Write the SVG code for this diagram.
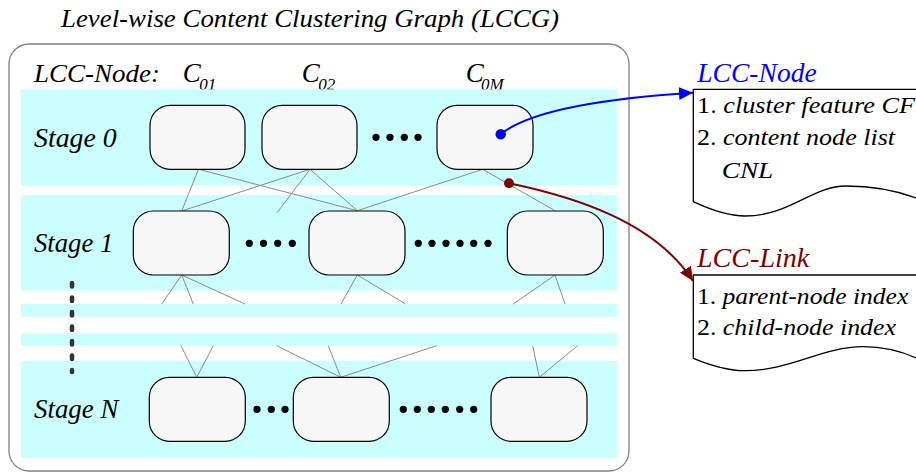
<svg xmlns="http://www.w3.org/2000/svg" width="916" height="473" viewBox="0 0 916 473" font-family="'Liberation Serif', 'DejaVu Serif', serif">
  <style>
    text { font-family: "Liberation Serif", "DejaVu Serif", serif; fill: #000; }
    .it { font-style: italic; }
    .band { fill: #ccffff; }
    .node { fill: #f7f7f7; stroke: #000; stroke-width: 1.2; }
    .link { stroke: #8c8c8c; stroke-width: 1; fill: none; }
    .dot { fill: #000; }
    .doc { fill: #fff; stroke: #000; stroke-width: 1.3; }
  </style>
  <defs>
    <marker id="arrowBlue" markerUnits="userSpaceOnUse" markerWidth="16" markerHeight="14" refX="14" refY="6.5" orient="auto">
      <path d="M0,0 L14,6.5 L0,13 z" fill="#0000ff"/>
    </marker>
    <marker id="arrowRed" markerUnits="userSpaceOnUse" markerWidth="16" markerHeight="14" refX="14" refY="6.5" orient="auto">
      <path d="M0,0 L14,6.5 L0,13 z" fill="#800000"/>
    </marker>
  </defs>

  <rect width="916" height="473" fill="#fff"/>

  <!-- title -->
  <text class="it" x="61" y="27" font-size="25" textLength="498" lengthAdjust="spacingAndGlyphs">Level-wise Content Clustering Graph (LCCG)</text>

  <!-- outer frame -->
  <rect x="9" y="44" width="620" height="427" rx="20" ry="20" fill="#fff" stroke="#808080" stroke-width="1.3"/>

  <!-- column headers (sit under the stage bands) -->
  <g id="headers">
    <text class="it" x="34" y="81.7" font-size="26" textLength="126" lengthAdjust="spacingAndGlyphs">LCC-Node:</text>
    <text class="it" x="182.7" y="81.7" font-size="27">C</text>
    <text class="it" x="199.3" y="90" font-size="17">01</text>
    <text class="it" x="301.7" y="81.7" font-size="27">C</text>
    <text class="it" x="318.3" y="90" font-size="17">02</text>
    <text class="it" x="465.7" y="81.7" font-size="27">C</text>
    <text class="it" x="481" y="90" font-size="17">0M</text>
  </g>

  <!-- stage bands -->
  <g id="bands">
    <rect class="band" x="21" y="89.3" width="596" height="96.4"/>
    <rect class="band" x="21" y="195" width="596" height="95.7"/>
    <rect class="band" x="21" y="304" width="596" height="12.7"/>
    <rect class="band" x="21" y="333.3" width="596" height="12.4"/>
    <rect class="band" x="21" y="361" width="596" height="96.7"/>
  </g>

  <!-- connectors -->
  <g id="connectors" class="link">
    <line x1="198.5" y1="169.3" x2="181.7" y2="211"/>
    <line x1="198.5" y1="169.3" x2="357.3" y2="210.7"/>
    <line x1="310" y1="169.3" x2="181.7" y2="211"/>
    <line x1="310" y1="169.3" x2="277" y2="212.7"/>
    <line x1="310" y1="169.3" x2="357.3" y2="210.7"/>
    <line x1="482.7" y1="169.3" x2="357.3" y2="210.7"/>
    <line x1="482.7" y1="169.3" x2="555" y2="210.7"/>

    <line x1="181.7" y1="275" x2="161.7" y2="304"/>
    <line x1="181.7" y1="275" x2="193.3" y2="304"/>
    <line x1="181.7" y1="275" x2="245" y2="304"/>
    <line x1="357.3" y1="275" x2="341" y2="304"/>
    <line x1="357.3" y1="275" x2="405.7" y2="304"/>
    <line x1="555" y1="275" x2="513.3" y2="304"/>
    <line x1="555" y1="275" x2="565" y2="304"/>

    <line x1="181" y1="345.7" x2="196.7" y2="377.3"/>
    <line x1="213.3" y1="345.7" x2="196.7" y2="377.3"/>
    <line x1="276.7" y1="345.7" x2="340.7" y2="377.3"/>
    <line x1="328.3" y1="345.7" x2="340.7" y2="377.3"/>
    <line x1="436.7" y1="345.7" x2="340.7" y2="377.3"/>
    <line x1="532.7" y1="345.7" x2="539.3" y2="377.3"/>
    <line x1="577.7" y1="345.7" x2="539.3" y2="377.3"/>
  </g>

  <!-- stage 0 -->
  <g id="stage0">
    <text class="it" x="34" y="147" font-size="27" textLength="82.7" lengthAdjust="spacingAndGlyphs">Stage 0</text>
    <g id="c01"><rect class="node" x="150" y="105.3" width="95" height="64" rx="20"/></g>
    <g id="c02"><rect class="node" x="262" y="105.3" width="95" height="64" rx="20"/></g>
    <g id="c0m"><rect class="node" x="437" y="105.3" width="96" height="64" rx="20"/></g>
    <g class="dot">
      <circle cx="376" cy="137.3" r="3.6"/>
      <circle cx="390" cy="137.3" r="3.6"/>
      <circle cx="404.3" cy="137.3" r="3.6"/>
      <circle cx="418" cy="137.3" r="3.6"/>
    </g>
  </g>

  <!-- stage 1 -->
  <g id="stage1">
    <text class="it" x="34" y="251.7" font-size="27" textLength="79.3" lengthAdjust="spacingAndGlyphs">Stage 1</text>
    <g id="c11"><rect class="node" x="133.3" y="211" width="96" height="64" rx="20"/></g>
    <g id="c12"><rect class="node" x="309" y="211" width="96" height="64" rx="20"/></g>
    <g id="c1m"><rect class="node" x="507.3" y="211" width="96" height="64" rx="20"/></g>
    <g class="dot">
      <circle cx="249.3" cy="243.3" r="3.6"/>
      <circle cx="263.5" cy="243.3" r="3.6"/>
      <circle cx="277.7" cy="243.3" r="3.6"/>
      <circle cx="292.3" cy="243.3" r="3.6"/>
      <circle cx="418.3" cy="243.3" r="3.6"/>
      <circle cx="432" cy="243.3" r="3.6"/>
      <circle cx="446" cy="243.3" r="3.6"/>
      <circle cx="460" cy="243.3" r="3.6"/>
      <circle cx="473.7" cy="243.3" r="3.6"/>
      <circle cx="488" cy="243.3" r="3.6"/>
    </g>
  </g>

  <!-- vertical ellipsis between stages -->
  <line x1="72" y1="283" x2="72" y2="372" stroke="#333" stroke-width="4.5" stroke-linecap="round" stroke-dasharray="3.6 10.9"/>

  <!-- stage N -->
  <g id="stageN">
    <text class="it" x="34" y="418.3" font-size="27" textLength="84.3" lengthAdjust="spacingAndGlyphs">Stage N</text>
    <g id="cn1"><rect class="node" x="149.3" y="377.3" width="96" height="64" rx="20"/></g>
    <g id="cn2"><rect class="node" x="293.3" y="377.3" width="96" height="64" rx="20"/></g>
    <g id="cnm"><rect class="node" x="491" y="377.3" width="96" height="64" rx="20"/></g>
    <g class="dot">
      <circle cx="257" cy="409.3" r="3.6"/>
      <circle cx="271.3" cy="409.3" r="3.6"/>
      <circle cx="285" cy="409.3" r="3.6"/>
      <circle cx="403.3" cy="409.3" r="3.6"/>
      <circle cx="417.3" cy="409.3" r="3.6"/>
      <circle cx="431.3" cy="409.3" r="3.6"/>
      <circle cx="445.3" cy="409.3" r="3.6"/>
      <circle cx="459.7" cy="409.3" r="3.6"/>
      <circle cx="473.7" cy="409.3" r="3.6"/>
    </g>
  </g>

  <!-- LCC-Node record -->
  <g id="lccNode">
    <text class="it" x="697.3" y="81.7" font-size="27" style="fill:#0000ff" textLength="119.4" lengthAdjust="spacingAndGlyphs">LCC-Node</text>
    <path class="doc" d="M916,89.3 L693.3,89.3 L693.3,201.7 C713,211 729,216 745,216 C790,216 812,186 846,186 C876,186 900,192 916,198"/>
    <text x="697" y="113" font-size="24" textLength="218" lengthAdjust="spacingAndGlyphs">1. <tspan class="it">cluster feature CF</tspan></text>
    <text x="697" y="145" font-size="24" textLength="198" lengthAdjust="spacingAndGlyphs">2. <tspan class="it">content node list</tspan></text>
    <text class="it" x="721.7" y="178.3" font-size="24" textLength="51.6" lengthAdjust="spacingAndGlyphs">CNL</text>
  </g>

  <!-- LCC-Link record -->
  <g id="lccLink">
    <text class="it" x="697" y="267.3" font-size="27" style="fill:#800000" textLength="112.3" lengthAdjust="spacingAndGlyphs">LCC-Link</text>
    <path class="doc" d="M916,275 L693.3,275 L693.3,358.3 C712,366 728,370.7 745,370.7 C790,370.7 822,346.7 863,346.7 C886,346.7 905,353 916,358"/>
    <text x="697" y="304" font-size="24" textLength="211.3" lengthAdjust="spacingAndGlyphs">1. <tspan class="it">parent-node index</tspan></text>
    <text x="697" y="335" font-size="24" textLength="199" lengthAdjust="spacingAndGlyphs">2. <tspan class="it">child-node index</tspan></text>
  </g>

  <!-- callout arrows -->
  <g id="callouts">
    <path d="M500.7,134.3 C530,110 610,98 693,92.7" fill="none" stroke="#0000ff" stroke-width="2" marker-end="url(#arrowBlue)"/>
    <circle cx="500.7" cy="134.3" r="5.2" fill="#0000ff"/>
    <path d="M509,183.3 C575,197 655,222 693,281" fill="none" stroke="#800000" stroke-width="2" marker-end="url(#arrowRed)"/>
    <circle cx="509" cy="183.3" r="5" fill="#800000"/>
  </g>
</svg>
